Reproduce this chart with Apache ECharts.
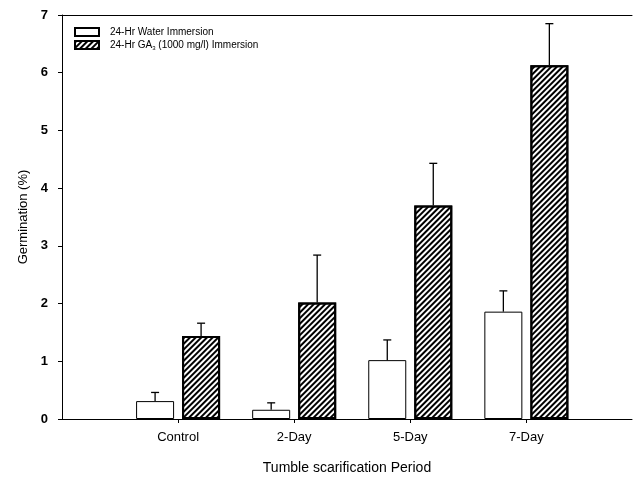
<!DOCTYPE html>
<html>
<head>
<meta charset="utf-8">
<script src="https://cdn.jsdelivr.net/npm/echarts@6/dist/echarts.min.js"></script>
<style>
html,body{margin:0;padding:0;background:#fff;}
#chart{width:639px;height:483px;}
</style>
</head>
<body>
<div id="chart"></div>
<script>
// ---- data ----
const categories = ['Control', '2-Day', '5-Day', '7-Day'];
const positions = [1, 2, 3, 4];
const waterName = '24-Hr Water Immersion';
const gaName = '24-Hr GA3 (1000 mg/l) Immersion';
const waterValues = [0.31, 0.16, 1.02, 1.86];
const waterErr = [0.15, 0.12, 0.35, 0.36];
const gaValues = [1.44, 2.02, 3.70, 6.13];
const gaErr = [0.22, 0.82, 0.73, 0.72];
const yTicks = [0, 1, 2, 3, 4, 5, 6, 7];

// ---- layout ----
const BAR_W = 38;
const GAP = 8;
const FONT = '"Liberation Sans", Arial, sans-serif';

const chart = echarts.init(document.getElementById('chart'), null, {renderer: 'canvas'});

function errRender(side) {
  return function (params, api) {
    const x = api.value(0), v = api.value(1), e = api.value(2);
    const base = api.coord([x, v]);
    const top = api.coord([x, v + e]);
    const cx = base[0] + side * (BAR_W / 2 + GAP / 2);
    const st = {stroke: '#000', lineWidth: 1.3};
    return {
      type: 'group',
      children: [
        {type: 'line', shape: {x1: cx, y1: base[1], x2: cx, y2: top[1]}, style: st},
        {type: 'line', shape: {x1: cx - 4, y1: top[1], x2: cx + 4, y2: top[1]}, style: st}
      ]
    };
  };
}

const hatch = {
  symbol: 'rect',
  symbolSize: 1,
  color: '#000',
  dashArrayX: [1, 0],
  dashArrayY: [1.3, 1.9],
  rotation: -Math.PI / 4
};

const option = {
  animation: false,
  backgroundColor: '#fff',
  textStyle: {fontFamily: FONT, color: '#000'},
  grid: {left: 62, right: 7, top: 15, bottom: 64, containLabel: false},
  legend: {
    data: [waterName, gaName],
    orient: 'vertical',
    left: 69,
    top: 22,
    itemWidth: 24,
    itemHeight: 8,
    itemGap: 3,
    icon: 'rect',
    textStyle: {
      fontFamily: FONT, fontSize: 10, color: '#000', padding: [0, 0, 0, 6],
      rich: {sub: {fontSize: 6, padding: [6, 0, 0, 0], fontFamily: FONT, color: '#000'}}
    },
    formatter: function (name) {
      return name === gaName ? '24-Hr GA{sub|3} (1000 mg/l) Immersion' : name;
    }
  },
  xAxis: [{
    type: 'value',
    min: 0,
    max: 4.91,
    interval: 1,
    splitLine: {show: false},
    axisLine: {show: true, lineStyle: {color: '#000', width: 1}},
    axisTick: {show: true, length: 4, customValues: positions, lineStyle: {color: '#000'}},
    axisLabel: {
      customValues: positions,
      fontSize: 13, color: '#000', margin: 12, fontFamily: FONT,
      formatter: function (v) {
        const i = positions.indexOf(v);
        return i >= 0 ? categories[i] : '';
      }
    },
    name: 'Tumble scarification Period',
    nameLocation: 'middle',
    nameGap: 42,
    nameTextStyle: {fontSize: 14, color: '#000', fontFamily: FONT}
  }, {
    type: 'value',
    position: 'top',
    min: 0,
    max: 4.91,
    interval: 1,
    splitLine: {show: false},
    axisLine: {show: true, lineStyle: {color: '#000', width: 1}},
    axisTick: {show: false},
    axisLabel: {show: false}
  }],
  yAxis: {
    type: 'value',
    min: 0,
    max: 7,
    interval: 1,
    splitLine: {show: false},
    axisLine: {show: true, lineStyle: {color: '#000', width: 1}},
    axisTick: {show: true, length: 4, lineStyle: {color: '#000'}},
    axisLabel: {
      fontSize: 13, fontWeight: 'bold', color: '#000', margin: 14, fontFamily: FONT,
      formatter: function (v) { return yTicks.indexOf(v) >= 0 ? String(v) : ''; }
    },
    name: 'Germination (%)',
    nameLocation: 'middle',
    nameGap: 29,
    nameTextStyle: {fontSize: 13, color: '#000', fontFamily: FONT}
  },
  series: [
    {
      name: waterName,
      type: 'bar',
      xAxisIndex: 0,
      barWidth: BAR_W,
      barGap: (GAP / BAR_W * 100).toFixed(1) + '%',
      itemStyle: {color: '#fff', borderColor: '#000', borderWidth: 1},
      data: positions.map((x, i) => [x, waterValues[i]])
    },
    {
      name: gaName,
      type: 'bar',
      xAxisIndex: 0,
      barWidth: BAR_W,
      barGap: (GAP / BAR_W * 100).toFixed(1) + '%',
      itemStyle: {color: '#fff', borderColor: '#000', borderWidth: 2, decal: hatch},
      data: positions.map((x, i) => [x, gaValues[i]])
    },
    {
      type: 'custom',
      xAxisIndex: 0,
      silent: true,
      z: 10,
      encode: {x: 0, y: 1},
      renderItem: errRender(-1),
      data: positions.map((x, i) => [x, waterValues[i], waterErr[i]])
    },
    {
      type: 'custom',
      xAxisIndex: 0,
      silent: true,
      z: 10,
      encode: {x: 0, y: 1},
      renderItem: errRender(1),
      data: positions.map((x, i) => [x, gaValues[i], gaErr[i]])
    }
  ]
};
chart.setOption(option);
</script>
</body>
</html>
